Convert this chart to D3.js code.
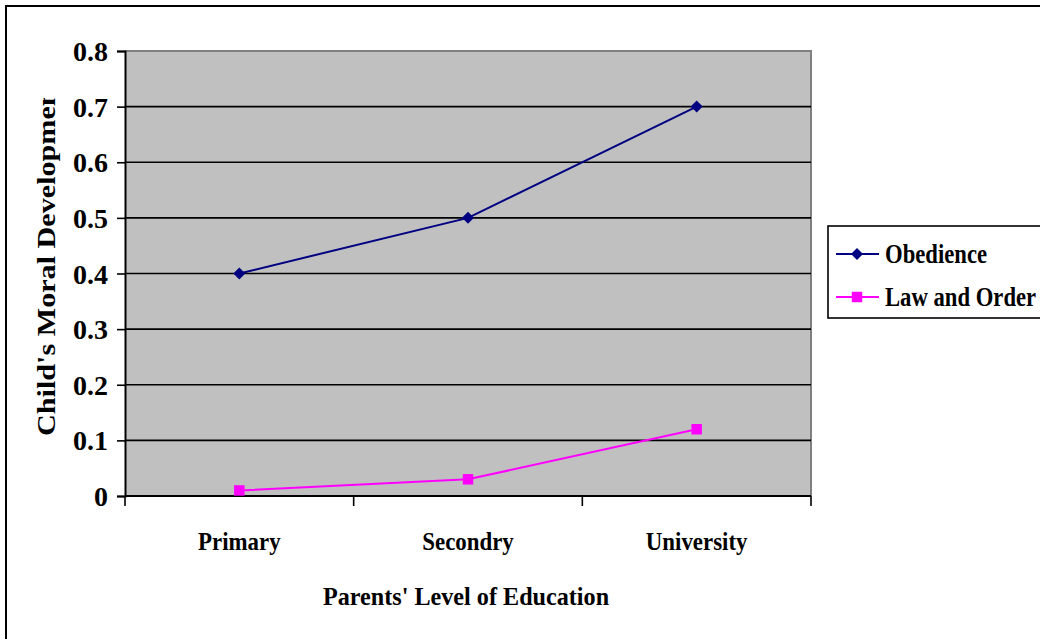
<!DOCTYPE html>
<html>
<head>
<meta charset="utf-8">
<script src="https://cdn.jsdelivr.net/npm/d3@7"></script>
<style>
  html, body { margin: 0; padding: 0; background: #fff; }
  svg { display: block; }
  text { font-family: "Liberation Serif", "Times New Roman", serif; font-weight: bold; fill: #000; }
</style>
</head>
<body>
<svg id="chart" width="1040" height="639"></svg>
<script>
const categories = ["Primary", "Secondry", "University"];
const obedience = [0.4, 0.5, 0.7];
const lawAndOrder = [0.01, 0.03, 0.12];
const yTicks = [0, 0.1, 0.2, 0.3, 0.4, 0.5, 0.6, 0.7, 0.8];
const yTickLabels = ["0", "0.1", "0.2", "0.3", "0.4", "0.5", "0.6", "0.7", "0.8"];
const seriesNames = ["Obedience", "Law and Order"];
const seriesColors = ["#000080", "#FF00FF"];
const xTitle = "Parents' Level of Education";
const yTitle = "Child's Moral Development";

const svg = d3.select("#chart");
const W = 1040, H = 639;
const plot = { left: 125, right: 811, top: 51, bottom: 496 };

// outer frame
svg.append("rect").attr("x", 6).attr("y", 6).attr("width", W + 20).attr("height", H + 20)
  .attr("fill", "#fff").attr("stroke", "#000").attr("stroke-width", 2);

const x = d3.scaleBand().domain(categories).range([plot.left, plot.right]).padding(0);
const y = d3.scaleLinear().domain([0, 0.8]).range([plot.bottom, plot.top]);
const cx = c => x(c) + x.bandwidth() / 2;

// plot background
svg.append("rect").attr("x", plot.left).attr("y", plot.top)
  .attr("width", plot.right - plot.left).attr("height", plot.bottom - plot.top)
  .attr("fill", "#C0C0C0");
// top/right gray border
svg.append("path")
  .attr("d", `M${plot.left},${plot.top}H${plot.right}V${plot.bottom}`)
  .attr("fill", "none").attr("stroke", "#808080").attr("stroke-width", 2);

// gridlines
svg.append("g").selectAll("line").data(yTicks.filter(d => d > 0 && d < 0.8)).join("line")
  .attr("x1", plot.left).attr("x2", plot.right)
  .attr("y1", d => y(d)).attr("y2", d => y(d))
  .attr("stroke", "#000").attr("stroke-width", 1.6);

// Y axis
const yAxis = d3.axisLeft(y).tickValues(yTicks).tickSize(8).tickPadding(9)
  .tickFormat((d, i) => yTickLabels[i]);
const gy = svg.append("g").attr("transform", `translate(${plot.left},0)`).call(yAxis);
gy.select(".domain").attr("stroke", "#000").attr("stroke-width", 2);
gy.selectAll(".tick line").attr("stroke", "#000").attr("stroke-width", 1.6);
gy.selectAll(".tick text")
  .style("font-family", "Liberation Serif, serif").style("font-weight", "bold")
  .style("font-size", "28px").attr("fill", "#000").attr("dy", "0.34em");

// X axis
const xAxis = d3.axisBottom(x).tickSize(0).tickPadding(0).tickFormat(() => "");
const gx = svg.append("g").attr("transform", `translate(0,${plot.bottom})`).call(xAxis);
gx.select(".domain").attr("stroke", "#000").attr("stroke-width", 2).attr("d", `M${plot.left},0H${plot.right}`);
// boundary tick marks
const bounds = categories.map(c => x(c)).concat([x(categories[categories.length - 1]) + x.bandwidth()]);
svg.append("g").selectAll("line").data(bounds).join("line")
  .attr("x1", d => d).attr("x2", d => d)
  .attr("y1", plot.bottom).attr("y2", plot.bottom + 10)
  .attr("stroke", "#000").attr("stroke-width", 1.6);
// category labels
svg.append("g").selectAll("text").data(categories).join("text")
  .attr("text-anchor", "middle")
  .attr("transform", d => `translate(${cx(d)},550) scale(0.88,1)`)
  .style("font-size", "26px")
  .text(d => d);

// axis titles
svg.append("text").attr("text-anchor", "middle")
  .attr("transform", `translate(${(plot.left + plot.right) / 2 - 2},605) scale(0.93,1)`)
  .style("font-size", "26px").text(xTitle);

svg.append("clipPath").attr("id", "ytclip")
  .append("rect").attr("x", 0).attr("y", 98).attr("width", 100).attr("height", 400);
svg.append("g").attr("clip-path", "url(#ytclip)")
  .append("text").attr("text-anchor", "start")
  .attr("transform", `translate(55,436) rotate(-90) scale(1.16,1)`)
  .style("font-size", "26px").text(yTitle);

// series
const series = [obedience, lawAndOrder];
const line = d3.line().x((d, i) => cx(categories[i])).y(d => y(d));
series.forEach((vals, s) => {
  svg.append("path").datum(vals).attr("d", line)
    .attr("fill", "none").attr("stroke", seriesColors[s]).attr("stroke-width", 2);
});
svg.append("g").selectAll("path").data(obedience).join("path")
  .attr("d", d3.symbol().type(d3.symbolSquare).size(72))
  .attr("transform", (d, i) => `translate(${cx(categories[i])},${y(d)}) rotate(45)`)
  .attr("fill", seriesColors[0]);
svg.append("g").selectAll("path").data(lawAndOrder).join("path")
  .attr("d", d3.symbol().type(d3.symbolSquare).size(110))
  .attr("transform", (d, i) => `translate(${cx(categories[i])},${y(d)})`)
  .attr("fill", seriesColors[1]);

// legend
const lg = svg.append("g");
lg.append("rect").attr("x", 828).attr("y", 226).attr("width", 240).attr("height", 92)
  .attr("fill", "#fff").attr("stroke", "#000").attr("stroke-width", 1.6);
const legendY = [254, 297];
seriesNames.forEach((name, s) => {
  const ly = legendY[s];
  lg.append("line").attr("x1", 836).attr("x2", 879).attr("y1", ly).attr("y2", ly)
    .attr("stroke", seriesColors[s]).attr("stroke-width", 2);
  lg.append("path")
    .attr("d", d3.symbol().type(d3.symbolSquare).size(s === 0 ? 72 : 110))
    .attr("transform", `translate(857,${ly})` + (s === 0 ? " rotate(45)" : ""))
    .attr("fill", seriesColors[s]);
  lg.append("text").attr("transform", `translate(885,${ly + 9}) scale(0.84,1)`)
    .style("font-size", "27px").text(name);
});
</script>
</body>
</html>
